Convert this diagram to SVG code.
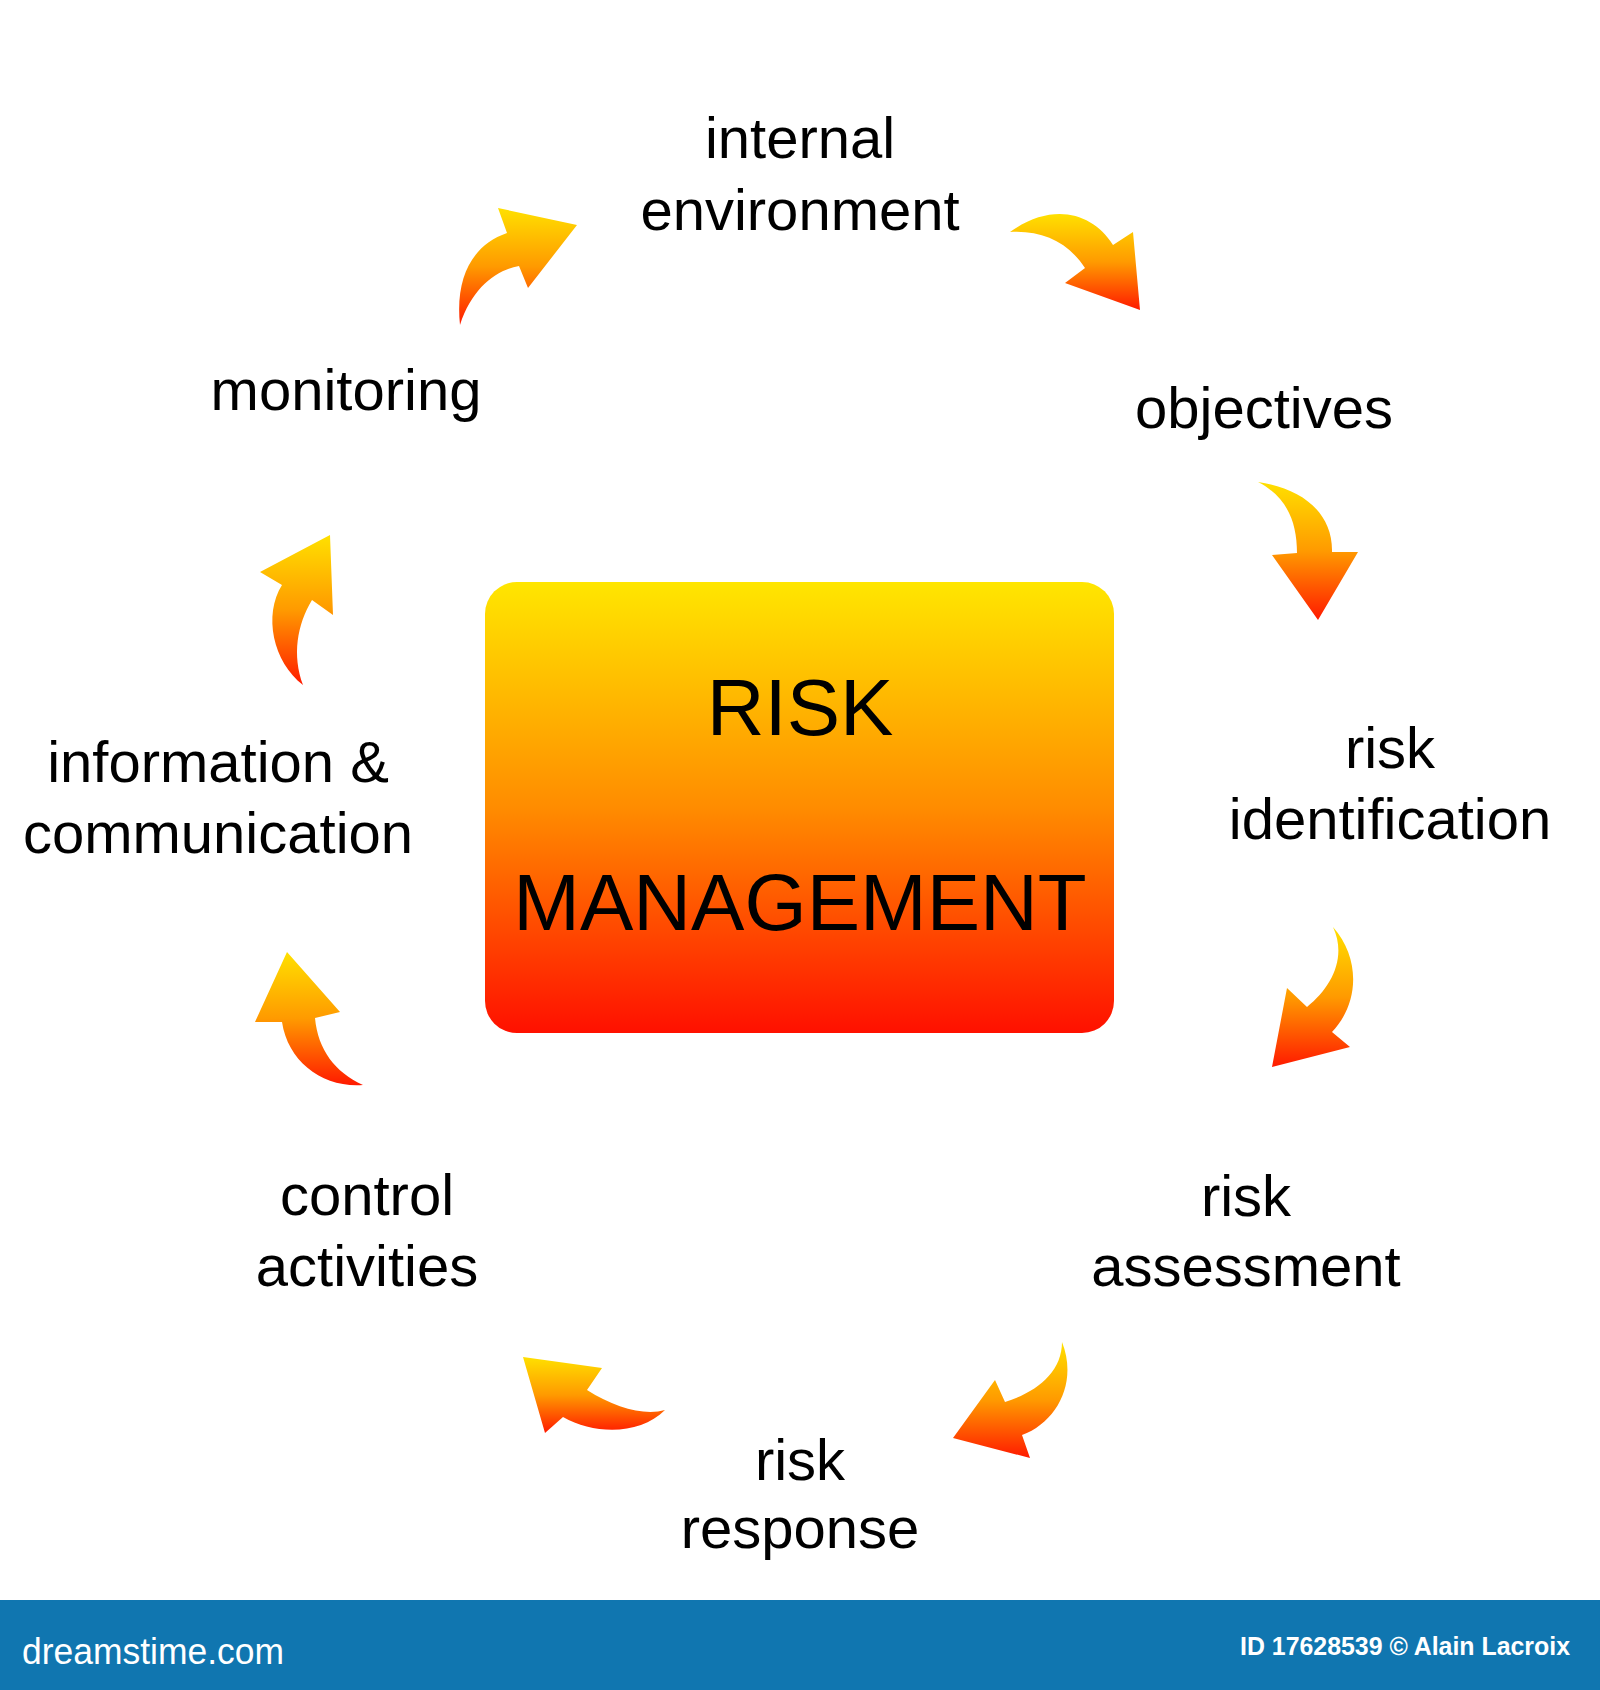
<svg xmlns="http://www.w3.org/2000/svg" width="1600" height="1690" viewBox="0 0 1600 1690">
<style>
.lbl{font-family:"Liberation Sans",Arial,sans-serif;font-size:58px;fill:#000;text-anchor:middle}
.big{font-family:"Liberation Sans",Arial,sans-serif;font-size:80px;fill:#000;text-anchor:middle}
.arr{fill:url(#ag);stroke:none}
</style>
<defs>
<linearGradient id="bg" x1="0" y1="0" x2="0" y2="1">
<stop offset="0" stop-color="#FFE600"/>
<stop offset="0.5" stop-color="#FF8C00"/>
<stop offset="1" stop-color="#FF1000"/>
</linearGradient>
<linearGradient id="ag" x1="0" y1="0" x2="0" y2="1">
<stop offset="0" stop-color="#FFE000"/>
<stop offset="0.5" stop-color="#FF9A00"/>
<stop offset="1" stop-color="#FF1A00"/>
</linearGradient>
</defs>
<rect width="1600" height="1690" fill="#fff"/>
<g id="center">
<rect x="485" y="582" width="629" height="451" rx="32" ry="32" fill="url(#bg)"/>
<text class="big" x="800" y="735">RISK</text>
<text class="big" x="800" y="930">MANAGEMENT</text>
</g>
<g id="internal-environment">
<text class="lbl" x="800" y="158">internal</text>
<text class="lbl" x="800" y="230">environment</text>
</g>
<g id="objectives"><text class="lbl" x="1264" y="428">objectives</text></g>
<g id="risk-identification">
<text class="lbl" x="1390" y="768">risk</text>
<text class="lbl" x="1390" y="839">identification</text>
</g>
<g id="risk-assessment">
<text class="lbl" x="1246" y="1216">risk</text>
<text class="lbl" x="1246" y="1286">assessment</text>
</g>
<g id="risk-response">
<text class="lbl" x="800" y="1480">risk</text>
<text class="lbl" x="800" y="1548">response</text>
</g>
<g id="control-activities">
<text class="lbl" x="367" y="1215">control</text>
<text class="lbl" x="367" y="1286">activities</text>
</g>
<g id="information-communication">
<text class="lbl" x="218" y="782">information &amp;</text>
<text class="lbl" x="218" y="853">communication</text>
</g>
<g id="monitoring"><text class="lbl" x="346" y="410">monitoring</text></g>
<g id="connectors">
<path class="arr" d="M460,325 C455,278 472,245 507,233 L498,208 L577,225 L528,288 L519,266 C496,270 472,288 460,325 Z"/>
<path class="arr" d="M1010,232 C1052,202 1092,212 1113,245 L1133,232 L1140,310 L1065,283 L1085,268 C1068,242 1042,230 1010,232 Z"/>
<path class="arr" d="M1258,482 C1302,488 1333,513 1332,552 L1358,552 L1318,620 L1272,555 L1297,553 C1297,522 1287,497 1258,482 Z"/>
<path class="arr" d="M1333,927 C1362,960 1358,1005 1332,1032 L1350,1047 L1272,1067 L1287,988 L1307,1007 C1332,987 1347,957 1333,927 Z"/>
<path class="arr" d="M1062,1342 C1078,1382 1057,1422 1022,1435 L1030,1458 L953,1438 L995,1380 L1005,1402 C1037,1392 1062,1372 1062,1342 Z"/>
<path class="arr" d="M523,1357 L602,1368 L587,1390 C615,1408 645,1416 665,1410 C640,1435 595,1435 563,1417 L545,1433 Z"/>
<path class="arr" d="M287,952 L340,1012 L315,1018 C318,1050 335,1072 363,1085 C323,1088 288,1062 282,1022 L255,1022 Z"/>
<path class="arr" d="M330,535 L333,615 L312,600 C297,625 292,655 303,685 C273,662 263,615 282,585 L260,572 Z"/>
</g>
<g id="footer">
<rect x="0" y="1600" width="1600" height="90" fill="#1076B0"/>
<text x="22" y="1664" font-family="Liberation Sans, Arial, sans-serif" font-size="36" fill="#fff" textLength="262" lengthAdjust="spacingAndGlyphs">dreamstime.com</text>
<text x="1240" y="1655" font-family="Liberation Sans, Arial, sans-serif" font-size="25" font-weight="bold" fill="#fff" textLength="330" lengthAdjust="spacingAndGlyphs">ID 17628539 © Alain Lacroix</text>
</g>
</svg>
